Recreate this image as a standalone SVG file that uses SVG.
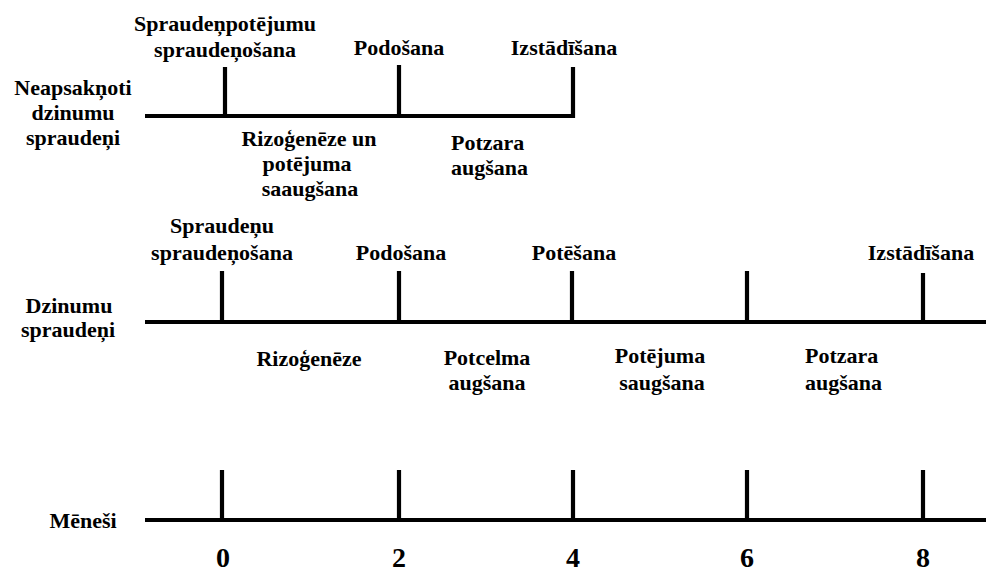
<svg xmlns="http://www.w3.org/2000/svg" width="986" height="574" viewBox="0 0 986 574">
<style>
text{font-family:"Liberation Serif","Times New Roman",serif;font-weight:bold;font-size:22px;fill:#000;text-anchor:middle}
.l{text-anchor:start}
.ax{stroke:#000;stroke-width:4.2;fill:none;stroke-linecap:butt}
.num{font-size:28px}
</style>
<rect width="986" height="574" fill="#fff"/>
<g id="connectors">
<path class="ax" d="M145 116H575M225 116V67M399 116V65M573 118V67"/>
<path class="ax" d="M145 322H986M222 322V271M399 322V271M572 322V271M747 322V271M923 322V273"/>
<path class="ax" d="M145 520H986M222 520V470M399 520V470M573 520V470M747 520V470M923 520V470"/>
</g>
<g id="row1-label"><text x="73" y="95">Neapsakņoti</text><text x="73" y="120">dzinumu</text><text x="73" y="145">spraudeņi</text></g>
<g id="row1-e1"><text x="225" y="31">Spraudeņpotējumu</text><text x="225" y="57">spraudeņošana</text></g>
<g id="row1-e2"><text x="399" y="55">Podošana</text></g>
<g id="row1-e3"><text x="564" y="55">Izstādīšana</text></g>
<g id="row1-p1"><text x="309" y="146">Rizoģenēze un</text><text x="307" y="171">potējuma</text><text x="310" y="196">saaugšana</text></g>
<g id="row1-p2"><text class="l" x="451" y="150">Potzara</text><text class="l" x="451" y="175">augšana</text></g>
<g id="row2-label"><text x="69" y="313">Dzinumu</text><text x="68" y="337">spraudeņi</text></g>
<g id="row2-e1"><text x="222" y="233">Spraudeņu</text><text x="222" y="260">spraudeņošana</text></g>
<g id="row2-e2"><text x="401" y="260">Podošana</text></g>
<g id="row2-e3"><text x="574" y="260">Potēšana</text></g>
<g id="row2-e4"><text x="921" y="260">Izstādīšana</text></g>
<g id="row2-p1"><text x="309" y="366">Rizoģenēze</text></g>
<g id="row2-p2"><text x="487" y="365">Potcelma</text><text x="487" y="390">augšana</text></g>
<g id="row2-p3"><text x="660" y="363">Potējuma</text><text x="662" y="390">saugšana</text></g>
<g id="row2-p4"><text class="l" x="805" y="363">Potzara</text><text class="l" x="805" y="390">augšana</text></g>
<g id="row3-label"><text x="83" y="528">Mēneši</text></g>
<g id="ticks"><text class="num" x="223" y="567">0</text><text class="num" x="399" y="567">2</text><text class="num" x="573" y="567">4</text><text class="num" x="747" y="567">6</text><text class="num" x="923" y="567">8</text></g>
</svg>
